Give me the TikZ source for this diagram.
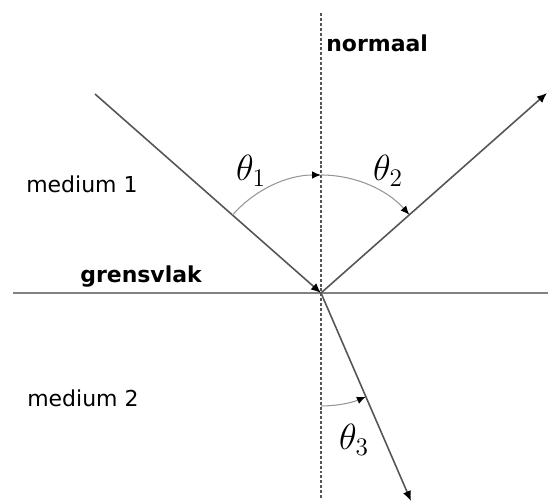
\documentclass[tikz,border=0pt]{standalone}
\usepackage{fontspec}
\setmainfont{DejaVu Sans}
\usepackage{tikz}
\usetikzlibrary{arrows.meta,calc}
\definecolor{raygray}{RGB}{85,85,85}
\definecolor{arcgray}{RGB}{150,150,150}
\definecolor{linegray}{RGB}{130,130,130}
\tikzset{
  ray/.style      ={draw=raygray,line width=0.9pt,-{Latex[length=2mm,width=1.7mm,color=black]}},
  anglearc/.style ={draw=arcgray,line width=0.6pt,-{Latex[length=1.8mm,width=1.5mm,color=black]}},
  normline/.style ={draw=raygray,line width=0.6pt,dash pattern=on 1.7pt off 1.1pt},
  surface/.style  ={draw=linegray,line width=1.2pt},
  medlbl/.style   ={font=\fontsize{12.5}{15}\selectfont,anchor=base west,inner sep=0pt},
  anglbl/.style   ={font=\fontsize{21}{24}\selectfont,inner sep=0pt},
}
\begin{document}
\begin{tikzpicture}[x=0.02cm,y=0.02cm]
\useasboundingbox (0,0) rectangle (548,504);
% ---- points ----
\coordinate (O)    at (321,211);
\coordinate (nTop) at (321,491);
\coordinate (nBot) at (321,4);
\coordinate (sL)   at (13,211);
\coordinate (sR)   at (548,211);
\coordinate (inc)  at (95,410);
\coordinate (refl) at (547,411);
\coordinate (refr) at (411,3);
% ---- interface and normal ----
\draw[surface]  (sL) -- (sR);
\draw[normline] (nTop) -- (nBot);
% ---- rays ----
\draw[ray] (inc) -- (O);
\draw[ray] (O) -- (refl);
\draw[ray] (O) -- (refr);
% ---- angles ----
\draw[anglearc] ($(O)+(138.6:118)$) arc[start angle=138.6,end angle=90,radius=118];
\draw[anglearc] ($(O)+(90:118)$) arc[start angle=90,end angle=41.5,radius=118];
\draw[anglearc] ($(O)+(-90:113)$) arc[start angle=-90,end angle=-66.6,radius=113];
\node[anglbl] (th1) at (251,333) {$\theta_1$};
\node[anglbl] (th2) at (388,333) {$\theta_2$};
\node[anglbl] (th3) at (354,64)  {$\theta_3$};
% ---- labels ----
\node[medlbl,font=\fontsize{12.5}{15}\selectfont\bfseries] (norm) at (326,452) {normaal};
\node[medlbl] (med1) at (26,311) {medium 1};
\node[medlbl,font=\fontsize{12.5}{15}\selectfont\bfseries] (grens) at (80,221) {grensvlak};
\node[medlbl] (med2) at (27,97) {medium 2};
\end{tikzpicture}
\end{document}
